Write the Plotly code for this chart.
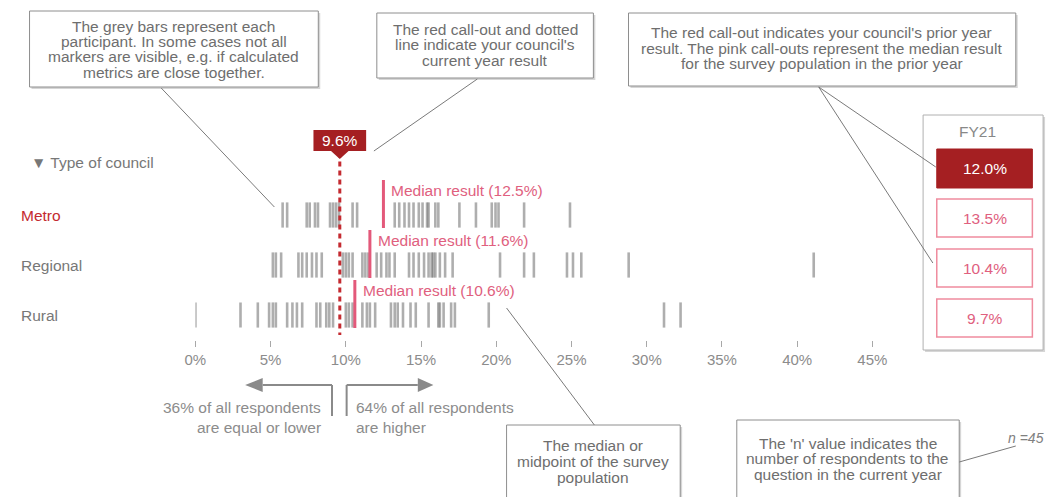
import plotly.graph_objects as go

W, H = 1062, 497

# ---------------- data ----------------
categories = ["Metro", "Regional", "Rural"]
metro = [5.8, 6.1, 7.4, 7.6, 7.95, 8.15, 8.95, 9.15, 9.35, 9.55, 10.45, 10.75,
         13.25, 13.55, 13.9, 14.2, 14.5, 14.85, 15.1, 15.4, 15.5, 15.95, 16.15,
         17.55, 18.65, 19.7, 19.95, 20.15, 21.85, 24.9]
regional = [5.15, 5.35, 5.7, 6.85, 7.1, 7.4, 7.75, 8.05, 8.4, 9.8, 10.0, 10.2,
            10.45, 11.1, 11.3, 11.5, 12.05, 12.35, 12.7, 12.9, 13.25, 14.2, 14.5,
            14.85, 15.2, 15.5, 15.7, 15.8, 15.95, 16.25, 16.6, 17.1, 20.25, 21.85,
            22.5, 24.7, 25.1, 25.65, 28.8, 41.1]
rural = [0.0, 3.0, 4.15, 4.9, 5.15, 5.35, 6.1, 6.45, 6.75, 7.1, 8.05, 8.3, 8.7,
         8.9, 9.15, 10.0, 10.2, 10.45, 11.1, 11.4, 11.6, 11.95, 13.0, 13.25, 13.45,
         13.8, 14.3, 14.65, 15.5, 16.15, 16.25, 16.5, 17.0, 17.25, 19.5, 31.15, 32.25]
medians = [12.5, 11.6, 10.6]
current_value = 9.6
prior_label = "FY21"
prior_value = 12.0
prior_medians = [13.5, 10.4, 9.7]
n_value = 45
share_lower = 36
share_higher = 64
tick_values = [0, 5, 10, 15, 20, 25, 30, 35, 40, 45]
tick_labels = [f"{v}%" for v in tick_values]

# ---------------- style ----------------
FONT = "Liberation Sans, Arial, sans-serif"
GREY_TXT = "#6e6e6e"
AX_TXT = "#8c8c8c"
DARK_RED = "#a51f22"
RED = "#c42a30"
PINK = "#e3597a"
PINK_TXT = "#e0607e"
PINK_BORDER = "#ef8c9e"
BOX_LINE = "#8e8e8e"
FS = 15.5

X0, X1 = 189, 883            # pixel extent of 0%..45%
AX_Y = 340                   # pixel of x axis
ROW0, ROW_STEP = 215, 50     # pixel of first row & spacing


def P(x, y):
    return x / W, 1 - y / H


def xpix(v):
    return X0 + (X1 - X0) * v / 45.0


def ypix_row(r):
    return ROW0 + ROW_STEP * r


fig = go.Figure()

# grey participant bars (line-ns length = 1.4 * size)
for i, vals in enumerate([metro, regional, rural]):
    fig.add_trace(go.Scatter(
        x=vals, y=[i] * len(vals), mode="markers", hoverinfo="skip",
        marker=dict(symbol="line-ns", size=18,
                    line=dict(width=2.6, color="rgba(100,100,100,0.52)")),
        showlegend=False))

# median lines
for i, m in enumerate(medians):
    fig.add_trace(go.Scatter(
        x=[m, m], y=[i - 0.7, i + 0.26], mode="lines", hoverinfo="skip",
        line=dict(color=PINK, width=3), showlegend=False))

# current value dotted line
fig.add_trace(go.Scatter(
    x=[current_value, current_value], y=[-1.25, 2.4], mode="lines",
    line=dict(color=RED, width=3, dash="5px,4px"), hoverinfo="skip",
    showlegend=False))

shapes = []
annotations = []


def text(x, y, t, size=FS, color=GREY_TXT, xanchor="center", italic=False):
    px_, py_ = P(x, y)
    annotations.append(dict(
        x=px_, y=py_, xref="paper", yref="paper", text=t, showarrow=False,
        xanchor=xanchor, yanchor="middle",
        font=dict(family=FONT, size=size, color=color,
                  style="italic" if italic else "normal")))


def box(x0, y0, x1, y1, line=BOX_LINE, fill="white", lw=1, shadow=True):
    if shadow:
        a, b = P(x0 + 2, y0 + 2)
        c, d = P(x1 + 2, y1 + 2)
        shapes.append(dict(type="rect", xref="paper", yref="paper",
                           x0=a, y0=b, x1=c, y1=d, line=dict(width=0),
                           fillcolor="#d6d6d6", layer="below"))
    a, b = P(x0, y0)
    c, d = P(x1, y1)
    shapes.append(dict(type="rect", xref="paper", yref="paper",
                       x0=a, y0=b, x1=c, y1=d, line=dict(color=line, width=lw),
                       fillcolor=fill, layer="below"))


def line(x0, y0, x1, y1, color="#7a7a7a", width=1):
    a, b = P(x0, y0)
    c, d = P(x1, y1)
    shapes.append(dict(type="line", xref="paper", yref="paper",
                       x0=a, y0=b, x1=c, y1=d, line=dict(color=color, width=width)))


def poly(points, color):
    path = "M " + " L ".join(f"{P(x, y)[0]},{P(x, y)[1]}" for x, y in points) + " Z"
    shapes.append(dict(type="path", xref="paper", yref="paper", path=path,
                       fillcolor=color, line=dict(width=0)))


def multiline(cx, y_first, lines_, spacing=15.5, **kw):
    for k, ln in enumerate(lines_):
        text(cx, y_first + k * spacing, ln, **kw)


# --- explanatory boxes (top) ---
box(19, 11, 315, 87)
multiline(167, 26, ["The grey bars represent each",
                    "participant. In some cases not all",
                    "markers are visible, e.g. if calculated",
                    "metrics are close together."])
line(154, 88, 270, 207)

box(375, 13, 597, 78)
multiline(486, 29, ["The red call-out and dotted",
                    "line indicate your council's",
                    "current year result"])
line(478, 79, 372, 151)

box(633, 13, 1030, 86)
multiline(831, 33, ["The red call-out indicates your council's prior year",
                    "result. The pink call-outs represent the median result",
                    "for the survey population in the prior year"])
line(828, 87, 948, 167)
line(828, 87, 945, 263)

# --- bottom boxes ---
box(508, 425, 686, 520)
multiline(597, 445, ["The median or", "midpoint of the survey", "population"], spacing=16)
line(508, 308, 598, 425)

box(744, 420, 972, 520)
multiline(858, 443, ["The 'n' value indicates the",
                     "number of respondents to the",
                     "question in the current year"], spacing=15.5)
line(972, 462, 1030, 446)
text(1061, 438, f"n ={n_value}", size=14, color="#808080", italic=True,
     xanchor="right")

# --- current-value call-out (banner with pointed bottom) ---
cx = xpix(current_value)
poly([(cx - 27, 130), (cx + 27, 130), (cx + 27, 151), (cx + 9, 151),
      (cx, 159), (cx - 9, 151), (cx - 27, 151)], DARK_RED)
text(cx, 141, f"{current_value}%", color="white")

# --- median labels ---
for i, m in enumerate(medians):
    text(xpix(m) + 6, ypix_row(i) - 25, f"Median result ({m}%)",
         color=PINK_TXT, xanchor="left")

# --- row labels ---
text(18, 162, "▼ Type of council", size=15.5, color="#777777", xanchor="left")
for i, c in enumerate(categories):
    text(8, ypix_row(i), c, size=15.5,
         color=RED if i == 0 else "#777777", xanchor="left")

# --- respondents share arrows ---
lx, rx = cx - 8, cx + 7
ay = 385
line(lx, ay, lx, 416, color="#8a8a8a", width=2)
line(lx, ay, 258, ay, color="#8a8a8a", width=2)
poly([(240, ay), (258, ay - 7), (258, ay + 7)], "#8a8a8a")
line(rx, ay, rx, 416, color="#8a8a8a", width=2)
line(rx, ay, 417, ay, color="#8a8a8a", width=2)
poly([(433, ay), (417, ay - 7), (417, ay + 7)], "#8a8a8a")
text(lx - 9, 407, f"{share_lower}% of all respondents", color=AX_TXT, xanchor="right")
text(lx - 9, 427, "are equal or lower", color=AX_TXT, xanchor="right")
text(rx + 8, 407, f"{share_higher}% of all respondents", color=AX_TXT, xanchor="left")
text(rx + 8, 427, "are higher", color=AX_TXT, xanchor="left")

# --- prior-year panel ---
box(935, 115, 1058, 350, line="#b0b0b0")
text(991, 131, prior_label, color="#888888")
box(949, 149, 1047, 188, line=DARK_RED, fill=DARK_RED, shadow=False)
text(998, 168.5, f"{prior_value:.1f}%", color="white")
for i, v in enumerate(prior_medians):
    yc = ypix_row(i) + 3
    box(949, yc - 19, 1047, yc + 19, line=PINK_BORDER, lw=1.5, shadow=False)
    text(998, yc, f"{v:.1f}%", color=PINK_TXT)

# ---------------- layout ----------------
y_top = (0 - ROW0) / ROW_STEP
y_bot = (AX_Y - ROW0) / ROW_STEP
fig.update_layout(
    width=W, height=H, margin=dict(l=0, r=0, t=0, b=0),
    paper_bgcolor="white", plot_bgcolor="rgba(0,0,0,0)",
    font=dict(family=FONT, color=GREY_TXT),
    showlegend=False,
    xaxis=dict(domain=[X0 / W, X1 / W], range=[0, 45], tickvals=tick_values,
               ticktext=tick_labels, ticks="outside", ticklen=6,
               tickcolor="#a8a8a8", tickwidth=1, showline=False, showgrid=False,
               zeroline=False, tickfont=dict(size=15, color=AX_TXT, family=FONT),
               fixedrange=True),
    yaxis=dict(domain=[1 - AX_Y / H, 1], range=[y_bot, y_top], visible=False,
               fixedrange=True),
    shapes=shapes, annotations=annotations,
)

fig.write_html("out.html",
               config={"displayModeBar": False},
               post_script="document.body.style.margin='0';"
                           "document.body.style.overflow='hidden';")
